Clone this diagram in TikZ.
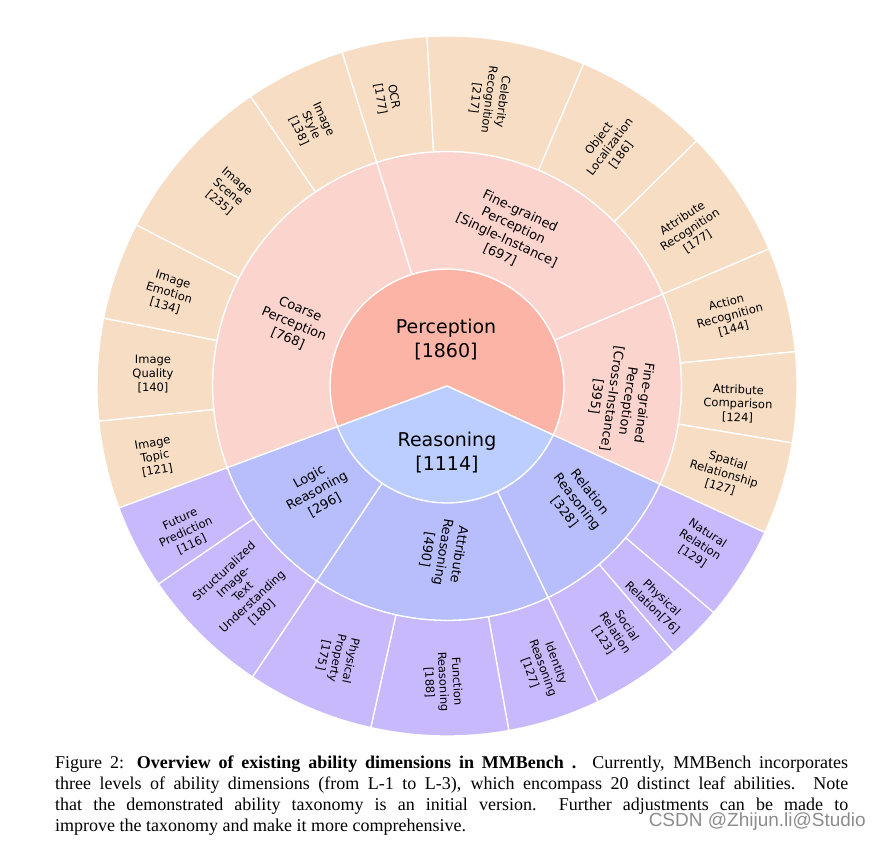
\documentclass[tikz,border=0pt]{standalone}
\usepackage{fontspec}
\setmainfont{Liberation Serif}
\newfontfamily\chartfont{DejaVu Sans}
\newfontfamily\markfont{Liberation Sans}
\definecolor{percin}{RGB}{252,180,166}
\definecolor{permid}{RGB}{252,212,206}
\definecolor{perout}{RGB}{247,221,196}
\definecolor{reain}{RGB}{187,206,255}
\definecolor{reamid}{RGB}{184,190,252}
\definecolor{reaout}{RGB}{200,184,252}
\tikzset{
  wedge/.style={fill=#1, draw=white, line width=1.3pt, line join=round},
  lvlone/.style={font=\chartfont\fontsize{19}{24}\selectfont, align=center, inner sep=0pt},
  lvltwo/.style={font=\chartfont\fontsize{13}{16}\selectfont, align=center, inner sep=0pt},
  lvlthree/.style={font=\chartfont\fontsize{11.5}{13.8}\selectfont, align=center, inner sep=0pt},
  capline/.style={font=\fontsize{18}{21}\selectfont, anchor=base west, inner sep=0pt}
}
\begin{document}
\begin{tikzpicture}[x=1pt,y=1pt]
	\useasboundingbox (0,0) rectangle (881,842);
	\fill[white] (0,0) rectangle (881,842);
	\begin{scope}[shift={(447,456)}]
		% Mitte: Perception / Reasoning
		\filldraw[wedge=percin] (0,0) -- (200.4:117pt) arc[start angle=200.4, end angle=-24.75, radius=117pt] -- cycle;
		\filldraw[wedge=reain] (0,0) -- (-24.75:117pt) arc[start angle=-24.75, end angle=-159.6, radius=117pt] -- cycle;
		% Ringe: von/bis (im Uhrzeigersinn), Radien, Farbe
		\foreach \a/\b/\ri/\ro/\col in {
			0/768/117/234.5/permid, 768/1465/117/234.5/permid, 1465/1860/117/234.5/permid,
			1860/2188/117/234.5/reamid, 2188/2678/117/234.5/reamid, 2678/2974/117/234.5/reamid,
			0/121/234.5/350/perout, 121/261/234.5/350/perout, 261/395/234.5/350/perout,
			395/630/234.5/350/perout, 630/768/234.5/350/perout, 768/885/234.5/350/perout,
			885/1102/234.5/350/perout, 1102/1288/234.5/350/perout, 1288/1465/234.5/350/perout,
			1465/1609/234.5/350/perout, 1609/1733/234.5/350/perout, 1733/1860/234.5/350/perout,
			1860/1989/234.5/350/reaout, 1989/2065/234.5/350/reaout, 2065/2188/234.5/350/reaout,
			2188/2315/234.5/350/reaout, 2315/2503/234.5/350/reaout, 2503/2678/234.5/350/reaout,
			2678/2858/234.5/350/reaout, 2858/2974/234.5/350/reaout}
		{
			\pgfmathsetmacro\sa{200.4-\a*0.121049}
			\pgfmathsetmacro\ea{200.4-\b*0.121049}
			\filldraw[wedge=\col] (\sa:\ri pt) arc[start angle=\sa, end angle=\ea, radius=\ri pt]
				-- (\ea:\ro pt) arc[start angle=\ea, end angle=\sa, radius=\ro pt] -- cycle;
		}
	\end{scope}
	% Beschriftung innen
	\node[lvlone] (perception) at (446,502) {Perception\\{[}1860]};
	\node[lvlone] (reasoning) at (447,389) {Reasoning\\{[}1114]};
	% Beschriftung Mitte
	\foreach \n/\x/\y/\r/\t in {
		coarse/294/518/-23/{Coarse\\Perception\\{[}768]},
		single/510/609/-25/{Fine-grained\\Perception\\{[}Single-Instance]\\{[}697]},
		cross/620/442/-98/{Fine-grained\\Perception\\{[}Cross-Instance]\\{[}395]},
		logic/317/351/29/{Logic\\Reasoning\\{[}296]},
		attribute/443/290/-99/{Attribute\\Reasoning\\{[}490]},
		relation/577/340/-52/{Relation\\Reasoning\\{[}328]}}
	\node[lvltwo, rotate=\r] (\n) at (\x,\y) {\t};
	% Beschriftung aussen
	\foreach \n/\x/\y/\r/\t in {
		topic/155/385/10/{Image\\Topic\\{[}121]},
		quality/153/468/0/{Image\\Quality\\{[}140]},
		emotion/169/549/-17/{Image\\Emotion\\{[}134]},
		scene/228/650/-40/{Image\\Scene\\{[}235]},
		style/311/717/-65/{Image\\Style\\{[}138]},
		ocr/387/744/-80/{OCR\\{[}177]},
		celebrity/489/742/-97/{Celebrity\\Recognition\\{[}217]},
		object/610/695/53/{Object\\Localization\\{[}186]},
		attrrecog/690/612/33/{Attribute\\Recognition\\{[}177]},
		action/730/526/15/{Action\\Recognition\\{[}144]},
		attrcomp/738/438/-2/{Attribute\\Comparison\\{[}124]},
		spatial/724/368/-17/{Spatial\\Relationship\\{[}127]},
		natural/700/297/-33/{Natural\\Relation\\{[}129]},
		physrel/657/239/-44/{Physical\\Relation[76]},
		social/615/209/-57/{Social\\Relation\\{[}123]},
		identity/543/174/-70/{Identity\\Reasoning\\{[}127]},
		function/443/160/-87/{Function\\Reasoning\\{[}188]},
		physprop/337/184/-102/{Physical\\Property\\{[}175]},
		structural/243/250/43/{Structuralized\\Image-\\Text\\Understanding\\{[}180]},
		future/186/310/25/{Future\\Prediction\\{[}116]}}
	\node[lvlthree, rotate=\r] (\n) at (\x,\y) {\t};
	% Bildunterschrift
	\node[capline] (capa) at (55,73) {\makebox[793pt][s]{Figure 2: \textbf{Overview of existing ability dimensions in MMBench .} Currently, MMBench incorporates}};
	\node[capline] (capb) at (55,52) {\makebox[793pt][s]{three levels of ability dimensions (from L-1 to L-3), which encompass 20 distinct leaf abilities. Note}};
	\node[capline] (capc) at (55,31) {\makebox[793pt][s]{that the demonstrated ability taxonomy is an initial version.\ \ Further adjustments can be made to}};
	\node[capline] (capd) at (55,10) {improve the taxonomy and make it more comprehensive.};
	\node[font=\markfont\fontsize{19}{19}\selectfont, text=black!45, anchor=base east, inner sep=0pt] (mark) at (866,15) {CSDN @Zhijun.li@Studio};
\end{tikzpicture}
\end{document}
